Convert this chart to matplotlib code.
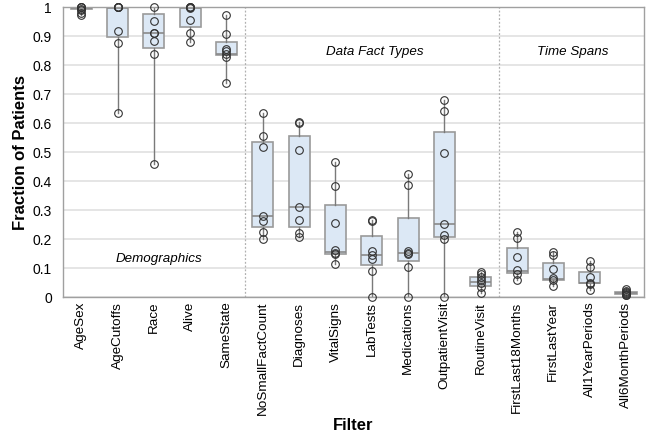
import matplotlib

matplotlib.use("Agg")
import matplotlib.pyplot as plt
from matplotlib.ticker import FormatStrFormatter, MultipleLocator

plt.rcParams["font.family"] = ["Liberation Sans", "DejaVu Sans"]

filters = [
    "AgeSex", "AgeCutoffs", "Race", "Alive", "SameState",
    "NoSmallFactCount", "Diagnoses", "VitalSigns", "LabTests", "Medications",
    "OutpatientVisit", "RoutineVisit",
    "FirstLast18Months", "FirstLastYear", "All1YearPeriods", "All6MonthPeriods",
]

# per-filter fractions (one value per dataset)
points = [
    [1.0, 1.0, 1.0, 0.995, 0.99, 0.982, 0.973],
    [1.0, 1.0, 1.0, 1.0, 0.92, 0.878, 0.635],
    [1.0, 0.953, 0.913, 0.91, 0.884, 0.840, 0.46],
    [1.0, 1.0, 1.0, 0.997, 0.957, 0.911, 0.882],
    [0.974, 0.908, 0.856, 0.849, 0.840, 0.830, 0.739],
    [0.635, 0.558, 0.518, 0.282, 0.264, 0.227, 0.203],
    [0.606, 0.603, 0.510, 0.311, 0.268, 0.221, 0.210],
    [0.468, 0.385, 0.255, 0.164, 0.155, 0.149, 0.114],
    [0.266, 0.264, 0.161, 0.148, 0.134, 0.090, 0.0],
    [0.426, 0.386, 0.160, 0.155, 0.150, 0.104, 0.0],
    [0.681, 0.643, 0.498, 0.252, 0.216, 0.201, 0.0],
    [0.089, 0.081, 0.072, 0.060, 0.049, 0.035, 0.014],
    [0.224, 0.204, 0.139, 0.095, 0.081, 0.060],
    [0.158, 0.145, 0.097, 0.066, 0.060, 0.040],
    [0.127, 0.106, 0.072, 0.051, 0.045, 0.026],
    [0.028, 0.022, 0.018, 0.016, 0.013, 0.010, 0.007],
]

# box quartiles as drawn in the reference
q1 = [0.993, 0.899, 0.861, 0.934, 0.836, 0.244, 0.243, 0.149, 0.112, 0.126,
      0.208, 0.040, 0.083, 0.060, 0.049, 0.012]
med = [0.998, 0.999, 0.910, 0.998, 0.838, 0.282, 0.311, 0.158, 0.147, 0.155,
       0.252, 0.055, 0.090, 0.065, 0.051, 0.016]
q3 = [1.0, 1.0, 0.976, 1.0, 0.879, 0.537, 0.556, 0.319, 0.212, 0.273,
      0.571, 0.070, 0.172, 0.120, 0.088, 0.020]

groups = ["Demographics", "Data Fact Types", "Time Spans"]

stats = [
    {"q1": a, "med": m, "q3": b, "whislo": min(p), "whishi": max(p), "fliers": []}
    for a, m, b, p in zip(q1, med, q3, points)
]

fig = plt.figure(figsize=(6.5, 4.33), dpi=100)
ax = fig.add_axes([0.097, 0.313, 0.894, 0.670])

ax.bxp(
    stats,
    positions=range(len(filters)),
    widths=0.58,
    showcaps=False,
    patch_artist=True,
    boxprops=dict(facecolor="#dce8f5", edgecolor="#9a9a9a", linewidth=1.2),
    medianprops=dict(color="#8a8a8a", linewidth=1.2),
    whiskerprops=dict(color="#7a7a7a", linewidth=1.0),
    zorder=2,
)

for i, p in enumerate(points):
    ax.plot([i] * len(p), p, "o", ms=5.5, mfc="none", mec="#333333",
            mew=0.8, clip_on=False, zorder=4)

for xd in (4.5, 11.5):
    ax.axvline(xd, color="#b0b0b0", lw=0.9, ls=(0, (1.5, 1.5)), zorder=1)

ax.text(2.14, 0.133, groups[0], style="italic", fontsize=9.6, ha="center", va="center")
ax.text(8.08, 0.845, groups[1], style="italic", fontsize=9.6, ha="center", va="center")
ax.text(13.54, 0.845, groups[2], style="italic", fontsize=9.6, ha="center", va="center")

ax.set_xlim(-0.5, len(filters) - 0.5)
ax.set_ylim(0, 1)
ax.yaxis.set_major_locator(MultipleLocator(0.1))
ax.yaxis.set_major_formatter(FormatStrFormatter("%g"))
ax.set_xticks(range(len(filters)))
ax.set_xticklabels(filters, rotation=90, fontsize=9.7)
ax.tick_params(axis="y", labelsize=10, length=0, pad=8)
ax.tick_params(axis="x", length=0, pad=3)
ax.grid(True, axis="y", color="#e3e3e3", lw=1.3, zorder=0)
ax.set_axisbelow(True)
for s in ax.spines.values():
    s.set_color("#a0a0a0")
    s.set_linewidth(1.0)

ax.set_ylabel("Fraction of Patients", fontsize=12, fontweight="bold", labelpad=3)
ax.set_xlabel("Filter", fontsize=12, fontweight="bold", labelpad=2)

fig.savefig("out.png", dpi=100)
